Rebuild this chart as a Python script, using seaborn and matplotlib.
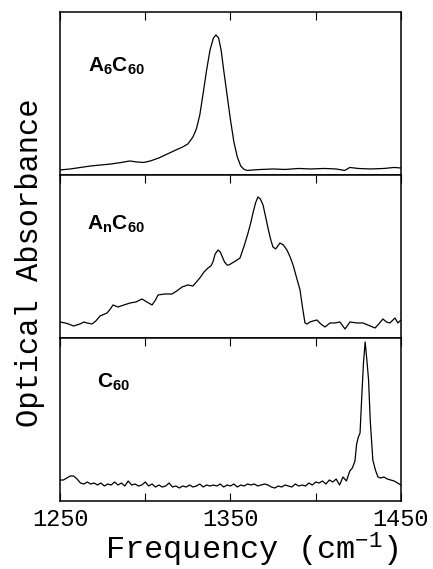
import matplotlib
matplotlib.use("Agg")
import matplotlib.pyplot as plt
import seaborn as sns
import pandas as pd

# ---------------- data (arbitrary absorbance units) ----------------
a6_freq = [1250, 1256, 1262, 1268, 1274, 1280, 1286, 1291, 1295, 1299, 1303, 1308,
           1313, 1318, 1322, 1325, 1328, 1330, 1332, 1334, 1336, 1338, 1340, 1341.5,
           1343, 1344.5, 1346, 1348, 1350, 1352, 1354, 1356, 1358, 1360, 1363, 1368,
           1375, 1382, 1390, 1397, 1405, 1412, 1417, 1420, 1425, 1432, 1440, 1446, 1450]
a6_abs = [5, 6, 7.5, 9, 10, 11, 12.5, 14, 13, 12.5, 14, 17,
          21, 25, 28, 31, 38, 46, 60, 82, 105, 125, 137, 140,
          137, 125, 105, 80, 55, 33, 18, 9, 5.5, 4.5, 5, 5.5,
          6, 5.5, 6.5, 6, 6.5, 6, 4.5, 7.5, 6.5, 6, 6.5, 7.5, 7]

an_freq = [1250, 1253, 1255, 1258, 1261.7, 1264, 1265.8, 1268.8, 1271, 1273.5, 1277.6,
           1279.5, 1281.1, 1284.0, 1287.5, 1291.1, 1294.5, 1298.1, 1301, 1304.0, 1306,
           1307.5, 1311.5, 1315.7, 1318.5, 1321.6, 1325, 1328.0, 1332, 1334.5, 1336.8,
           1338.5, 1339.7, 1341, 1342.7, 1344, 1345.0, 1346.5, 1348, 1349.1, 1351, 1353,
           1355.6, 1358, 1360.3, 1362, 1363.2, 1364.7, 1366.1, 1367.5, 1369.1, 1370.5,
           1372.0, 1373.5, 1374.9, 1376.5, 1379.0, 1381, 1383.1, 1385, 1386.7, 1388.5,
           1390.8, 1392.3, 1393.7, 1395, 1396.6, 1398.5, 1400.7, 1403, 1405.4, 1408.4,
           1411.3, 1414.2, 1417.2, 1420.1, 1424.2, 1427.7, 1430.6, 1434.8, 1437, 1439.4,
           1441.5, 1443.5, 1446.5, 1448.2, 1450]
an_abs = [16, 15, 14, 12, 14, 16, 15, 14, 17, 22, 25,
          29, 33, 31, 33, 35, 36, 39, 36, 33, 38,
          43, 44, 44, 47, 51, 53, 52, 60, 66, 70,
          72, 76, 84, 88, 86, 82, 76, 73, 73, 75, 77,
          80, 92, 105, 116, 125, 135, 141, 139, 133, 122,
          110, 99, 91, 89, 95, 93, 88, 81, 73, 62,
          48, 30, 15, 14, 16, 17, 18, 14, 11, 15,
          15, 16, 9, 16, 15, 15, 13, 10, 14, 19,
          16, 15, 20, 15, 18]

c60_freq = [1250, 1252, 1254, 1256, 1258, 1260, 1262, 1264, 1266, 1268, 1270, 1272,
            1274, 1276, 1278, 1280, 1282, 1284, 1286, 1288, 1290, 1292, 1294, 1296,
            1298, 1300, 1302, 1304, 1306, 1308, 1310, 1312, 1314, 1316, 1318, 1320,
            1322, 1324, 1326, 1328, 1330, 1332, 1334, 1336, 1338, 1340, 1342, 1344,
            1346, 1348, 1350, 1352, 1354, 1356, 1358, 1360, 1362, 1364, 1366, 1368,
            1370, 1372, 1374, 1376, 1378, 1380, 1382, 1384, 1386, 1388, 1390, 1392,
            1394, 1396, 1398, 1400, 1402, 1404, 1406, 1408, 1410, 1412, 1414, 1416,
            1418, 1420, 1421.5, 1423, 1424, 1425, 1426, 1427, 1428, 1429, 1430, 1431,
            1432, 1433.5, 1435, 1436.5, 1438, 1440, 1442, 1444, 1446, 1448, 1450]
c60_abs = [21, 21, 23, 25, 25, 22, 18, 17, 19, 17, 18, 16,
           18, 15, 17, 16, 19, 16, 18, 15, 20, 16, 17, 15,
           16, 19, 15, 17, 14, 16, 14, 15, 18, 14, 15, 13,
           15, 14, 16, 14, 15, 17, 14, 16, 15, 16, 15, 17,
           14, 16, 15, 17, 14, 16, 15, 17, 16, 17, 15, 16,
           17, 16, 14, 13, 15, 14, 16, 15, 14, 17, 15, 16,
           15, 18, 16, 19, 18, 20, 17, 21, 19, 22, 16, 24,
           20, 30, 33, 40, 57, 64, 68, 104, 138, 159, 141, 121,
           80, 41, 31, 24, 23, 24, 22, 21, 20, 18, 16]

panel_labels = [r"$\mathbf{A_6C_{60}}$", r"$\mathbf{A_nC_{60}}$", r"$\mathbf{C_{60}}$"]
tick_values = [1250, 1300, 1350, 1400, 1450]
tick_labels = ["1250", "", "1350", "", "1450"]

# ---------------- style ----------------
sns.set_theme(style="white")
plt.rcParams["font.family"] = ["Liberation Mono", "DejaVu Sans Mono"]
plt.rcParams["mathtext.fontset"] = "custom"
plt.rcParams["mathtext.rm"] = "Liberation Mono"
plt.rcParams["mathtext.bf"] = "Liberation Sans:bold"
plt.rcParams["mathtext.it"] = "Liberation Mono"

fig, axes = plt.subplots(3, 1, figsize=(4.33, 5.69), dpi=100, sharex=True)
fig.subplots_adjust(left=0.1386, right=0.926, top=0.979, bottom=0.1195, hspace=0)

series = [(a6_freq, a6_abs), (an_freq, an_abs), (c60_freq, c60_abs)]
label_pos = [(0.082, 0.632), (0.079, 0.663), (0.108, 0.693)]

for i, (ax, (fr, ab)) in enumerate(zip(axes, series)):
    df = pd.DataFrame({"freq": fr, "abs": ab})
    sns.lineplot(data=df, x="freq", y="abs", ax=ax, color="black",
                 linewidth=0.9, estimator=None)
    ax.set_xlim(1250, 1450)
    ax.set_ylim(0, 163)
    ax.set_yticks([])
    ax.set_xlabel("")
    ax.set_ylabel("")
    for sp in ax.spines.values():
        sp.set_visible(True)
        sp.set_color("black")
        sp.set_linewidth(1.1)
    ax.set_xticks(tick_values)
    ax.set_xticklabels(tick_labels)
    last = i == 2
    ax.tick_params(axis="x", direction="in", top=True, bottom=last,
                   labelbottom=last, length=5.5, width=0.8, color="black",
                   labelsize=17, pad=5, labelcolor="black")
    ax.text(label_pos[i][0], label_pos[i][1], panel_labels[i],
            transform=ax.transAxes, fontsize=15, ha="left", va="baseline",
            color="black")

fig.text(0.069, 0.539, "Optical Absorbance", rotation=90, ha="center",
         va="center", fontsize=22, color="black")
fig.text(0.582, 0.0160, r"Frequency (cm$^{-1}$)", ha="center", va="baseline",
         fontsize=23, color="black")

fig.savefig("out.png", dpi=100, facecolor="white")
